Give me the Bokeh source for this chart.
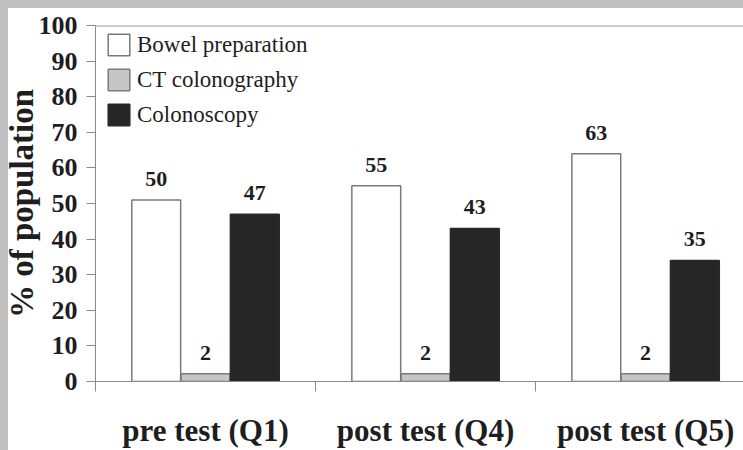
from bokeh.plotting import figure
from bokeh.models import Range1d, FixedTicker, ColumnDataSource, Legend, LegendItem, Span
from bokeh.layouts import column
from bokeh.embed import file_html
from bokeh.resources import INLINE
from bokeh.core.properties import value

# ---- data ----
categories = ["pre test (Q1)", "post test (Q4)", "post test (Q5)"]
series_names = ["Bowel preparation", "CT colonography", "Colonoscopy"]
bowel = [51, 55, 64]
ct = [2.2, 2.2, 2.2]
colo = [47, 43, 34]
bowel_labels = ["50", "55", "63"]
ct_labels = ["2", "2", "2"]
colo_labels = ["47", "43", "35"]
y_ticks = [0, 10, 20, 30, 40, 50, 60, 70, 80, 90, 100]

SERIF = "Liberation Serif"
AXIS_GRAY = "#8a8a8a"
TEXT = "#1e1e1e"

centers = [i + 0.5 for i in range(len(categories))]
boundaries = [i for i in range(len(categories) + 1)]
offsets = [-0.224, 0.0, 0.224]
bar_w = 0.222
fills = ["#ffffff", "#c6c6c6", "#262626"]
lines = ["#7a7a7a", "#7a7a7a", "#2a2a2a"]

p = figure(width=743, height=450,
           x_range=Range1d(0, 2.945), y_range=Range1d(y_ticks[0], y_ticks[-1]),
           output_backend="svg", toolbar_location=None,
           min_border_left=95, min_border_right=0, min_border_top=25, min_border_bottom=68)
p.outline_line_color = None
p.grid.visible = False
p.background_fill_color = "white"
p.border_fill_color = None

items = []
for vals, lbls, name, fill, lc, off in zip([bowel, ct, colo],
                                           [bowel_labels, ct_labels, colo_labels],
                                           series_names, fills, lines, offsets):
    src = ColumnDataSource(dict(x=[c + off for c in centers], top=vals, lbl=lbls))
    r = p.vbar(x="x", top="top", bottom=0, width=bar_w, source=src,
               fill_color=fill, line_color=lc, line_width=1.5)
    p.text(x="x", y="top", text="lbl", source=src, text_align="center",
           text_baseline="bottom", y_offset=-14, text_font=value(SERIF),
           text_font_style="bold", text_font_size="22px", text_color=TEXT)
    items.append(LegendItem(label=name, renderers=[r]))

p.add_layout(Span(location=y_ticks[-1], dimension="width", line_color="#9a9a9a", line_width=2))

legend = Legend(items=items, location=(10, 253), margin=0, padding=0,
                glyph_width=27, glyph_height=27, label_height=27, spacing=8,
                label_standoff=5, border_line_alpha=0, background_fill_alpha=0,
                label_text_font=SERIF, label_text_font_size="23px", label_text_color=TEXT)
p.add_layout(legend)

# x axis
xa = p.xaxis[0]
xa.ticker = FixedTicker(ticks=centers, minor_ticks=boundaries)
xa.major_label_overrides = {c: cat for c, cat in zip(centers, categories)}
xa.major_tick_out = 0
xa.major_tick_in = 0
xa.minor_tick_out = 10
xa.minor_tick_in = 0
xa.minor_tick_line_color = AXIS_GRAY
xa.axis_line_color = AXIS_GRAY
xa.major_label_standoff = 21
xa.major_label_text_font = SERIF
xa.major_label_text_font_style = "bold"
xa.major_label_text_font_size = "31px"
xa.major_label_text_color = TEXT

# y axis
ya = p.yaxis[0]
ya.ticker = FixedTicker(ticks=y_ticks, minor_ticks=[])
ya.major_tick_out = 9
ya.major_tick_in = 0
ya.major_tick_line_color = AXIS_GRAY
ya.axis_line_color = AXIS_GRAY
ya.major_label_standoff = 9
ya.major_label_text_font = SERIF
ya.major_label_text_font_style = "bold"
ya.major_label_text_font_size = "26px"
ya.major_label_text_color = TEXT
ya.axis_label = "% of population"
ya.axis_label_standoff = -4
ya.axis_label_text_font = SERIF
ya.axis_label_text_font_style = "bold"
ya.axis_label_text_font_size = "33px"
ya.axis_label_text_color = TEXT

layout = column(p, width=743, height=450, styles={
    "background": "linear-gradient(to right, #c0c0c0 8px, transparent 8px), "
                  "linear-gradient(to bottom, #c0c0c0 8px, #ffffff 8px)"})

open("out.html", "w").write(file_html(layout, INLINE))
